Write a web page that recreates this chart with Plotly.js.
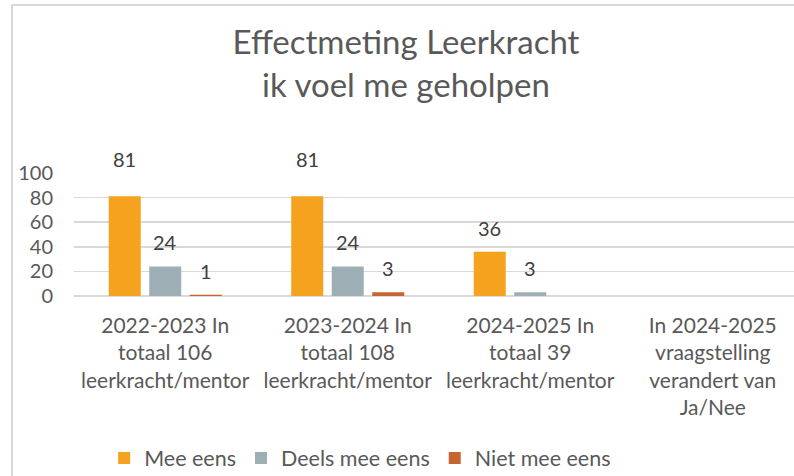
<!DOCTYPE html>
<html>
<head>
<title>Effectmeting Leerkracht</title>
<script src="https://cdn.plot.ly/plotly-3.0.1.min.js"></script>
<style>
	body {
		margin: 0;
		background-color: white;
		overflow: hidden;
	}
	#frame {
		position: absolute;
		left: 11px;
		top: 4px;
		width: 900px;
		height: 600px;
		border-left: 2px solid #d9d9d9;
		border-top: 2px solid #d9d9d9;
	}
	#chart {
		position: absolute;
		left: 0;
		top: 0;
	}
</style>
</head>
<body>
<div id="frame"></div>
<div id="chart"></div>
<script>
	var categories = [
	  '2022-2023 In<br>totaal 106<br>leerkracht/mentor',
	  '2023-2024 In<br>totaal 108<br>leerkracht/mentor',
	  '2024-2025 In<br>totaal 39<br>leerkracht/mentor',
	  'In 2024-2025<br>vraagstelling<br>verandert van<br>Ja/Nee'
	];
	var meeEens = [81, 81, 36, null];
	var deelsMeeEens = [24, 24, 3, null];
	var nietMeeEens = [1, 3, null, null];

	var seriesNames = ['Mee eens', 'Deels mee eens', 'Niet mee eens'];
	var seriesValues = [meeEens, deelsMeeEens, nietMeeEens];
	var colors = ['#F5A31F', '#9DAFB4', '#C6652F'];

	var font = 'Lato, "Open Sans", sans-serif';

	var traces = [];
	var labels = [];
	for (var i = 0; i < seriesNames.length; i++) {
	  traces.push({
	    type: 'bar',
	    name: seriesNames[i],
	    x: categories,
	    y: seriesValues[i],
	    marker: {color: colors[i]},
	    hoverinfo: 'none'
	  });
	  // value labels above the bars
	  for (var j = 0; j < categories.length; j++) {
	    var v = seriesValues[i][j];
	    if (v === null) continue;
	    labels.push({
	      x: categories[j],
	      y: v,
	      xref: 'x',
	      yref: 'y',
	      text: String(v),
	      showarrow: false,
	      xshift: (i - 1) * 40.5,
	      yshift: v > 70 ? 37 : 24,
	      font: {family: font, size: 20, color: '#404040'}
	    });
	  }
	}

	var layout = {
	  width: 812,
	  height: 476,
	  margin: {l: 74, r: 8, t: 173, b: 180, autoexpand: false},
	  paper_bgcolor: 'rgba(0,0,0,0)',
	  plot_bgcolor: 'rgba(0,0,0,0)',
	  font: {family: font, color: '#595959'},
	  title: {
	    text: 'Effectmeting Leerkracht<br>ik voel me geholpen',
	    font: {family: font, size: 33, color: '#595959'},
	    x: 0.5,
	    xanchor: 'center',
	    y: 0.886,
	    yanchor: 'top'
	  },
	  barmode: 'group',
	  bargap: 0.334,
	  bargroupgap: 0.21,
	  xaxis: {
	    showgrid: false,
	    showline: false,
	    zeroline: false,
	    tickfont: {family: font, size: 21, color: '#595959'},
	    ticklabelstandoff: 15,
	    automargin: false,
	    fixedrange: true
	  },
	  yaxis: {
	    range: [0, 100],
	    dtick: 20,
	    showgrid: true,
	    gridcolor: '#d9d9d9',
	    gridwidth: 1.5,
	    zeroline: true,
	    zerolinecolor: '#d9d9d9',
	    zerolinewidth: 1.5,
	    showline: false,
	    tickfont: {family: font, size: 20, color: '#595959'},
	    ticklabelstandoff: 20,
	    automargin: false,
	    fixedrange: true
	  },
	  showlegend: true,
	  legend: {
	    orientation: 'h',
	    x: 0.392,
	    xanchor: 'center',
	    y: -1.317,
	    yanchor: 'middle',
	    font: {family: font, size: 21.5, color: '#595959'},
	    itemwidth: 30,
	    traceorder: 'normal'
	  },
	  annotations: labels
	};

	Plotly.newPlot('chart', traces, layout, {displayModeBar: false, staticPlot: true});
</script>
</body>
</html>
